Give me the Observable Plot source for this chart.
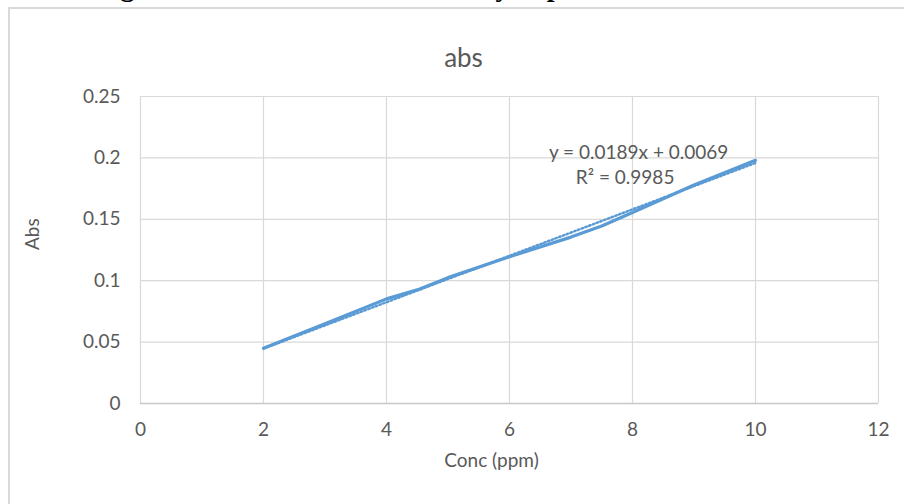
<!DOCTYPE html>
<html>
<head>
<meta charset="utf-8">
<script src="https://cdn.jsdelivr.net/npm/d3@7"></script>
<script src="https://cdn.jsdelivr.net/npm/@observablehq/plot@0.6"></script>
<style>
  html, body { margin: 0; padding: 0; background: #fff; overflow: hidden; }
  #wrap { position: relative; width: 904px; height: 504px; }
  #border { position: absolute; left: 8px; top: 7px; width: 1000px; height: 600px;
            border-left: 2px solid #d9d9d9; border-top: 2px solid #d9d9d9; }
  #chart { position: absolute; left: 0; top: 0; }
</style>
</head>
<body>
<div id="wrap"><div id="border"></div><div id="chart"></div></div>
<script>
const conc = [2, 3, 4, 4.5, 5, 6, 7, 7.5, 8, 9, 10];
const absValues = [0.045, 0.065, 0.0852, 0.0925, 0.1025, 0.1195, 0.1355, 0.1445, 0.1555, 0.178, 0.198];
const slope = 0.0189, intercept = 0.0069;
const trendX = [2, 10];
const xTicks = [0, 2, 4, 6, 8, 10, 12];
const yTicks = [0, 0.05, 0.1, 0.15, 0.2, 0.25];
const yTickLabels = ["0", "0.05", "0.1", "0.15", "0.2", "0.25"];
const chartTitle = "abs";
const xLabel = "Conc (ppm)";
const yLabel = "Abs";
const equationText = "y = 0.0189x + 0.0069";
const r2Text = "R² = 0.9985";
const captionText = "Figure 1: Standard curve of methyldopa";

const data = conc.map((c, i) => ({x: c, y: absValues[i]}));
const trend = trendX.map(x => ({x, y: slope * x + intercept}));
const gray = "#595959";
const font = "Lato, 'Open Sans', sans-serif";

const plot = Plot.plot({
  width: 904,
  height: 504,
  marginLeft: 140,
  marginRight: 26,
  marginTop: 96,
  marginBottom: 101,
  style: {fontFamily: font, background: "transparent", overflow: "visible"},
  x: {domain: [0, 12], ticks: xTicks},
  y: {domain: [0, 0.25], ticks: yTicks},
  marks: [
    Plot.gridX(xTicks, {stroke: "#d9d9d9", strokeOpacity: 1, strokeWidth: 1.2}),
    Plot.gridY(yTicks, {stroke: "#d9d9d9", strokeOpacity: 1, strokeWidth: 1.2}),
    Plot.ruleY([0], {stroke: "#c8c8c8", strokeWidth: 1.5}),
    Plot.axisX(xTicks, {tickSize: 0, tickPadding: 19, fontSize: 19, fill: gray, label: null, tickFormat: d => String(d)}),
    Plot.axisY(yTicks, {tickSize: 0, tickPadding: 20, fontSize: 19, fill: gray, label: null,
      tickFormat: d => yTickLabels[yTicks.indexOf(d)]}),
    Plot.line(trend, {x: "x", y: "y", stroke: "#5b9bd5", strokeWidth: 2.5, strokeDasharray: "1.5,2.5"}),
    Plot.line(data, {x: "x", y: "y", stroke: "#5b9bd5", strokeWidth: 3.2, curve: "linear"}),
    Plot.text([equationText], {x: 8.1, y: 0.2043, text: d => d, fontSize: 19, fill: gray}),
    Plot.text([r2Text], {x: 7.88, y: 0.1838, text: d => d, fontSize: 19, fill: gray}),
    Plot.text([chartTitle], {frameAnchor: "top", dx: -46, dy: -48, text: d => d, fontSize: 26, fill: gray}),
    Plot.text([xLabel], {frameAnchor: "bottom", dx: -18, dy: 63, text: d => d, fontSize: 19, fill: gray}),
    Plot.text([yLabel], {frameAnchor: "left", dx: -108, rotate: -90, text: d => d, fontSize: 19, fill: gray}),
    Plot.text([captionText], {frameAnchor: "top-left", dx: -45, dy: -101, textAnchor: "start", lineAnchor: "bottom",
      text: d => d, fontSize: 28, fontWeight: "bold", fontFamily: "'Liberation Serif', serif", fill: "#000"})
  ]
});
document.getElementById("chart").appendChild(plot);
</script>
</body>
</html>
